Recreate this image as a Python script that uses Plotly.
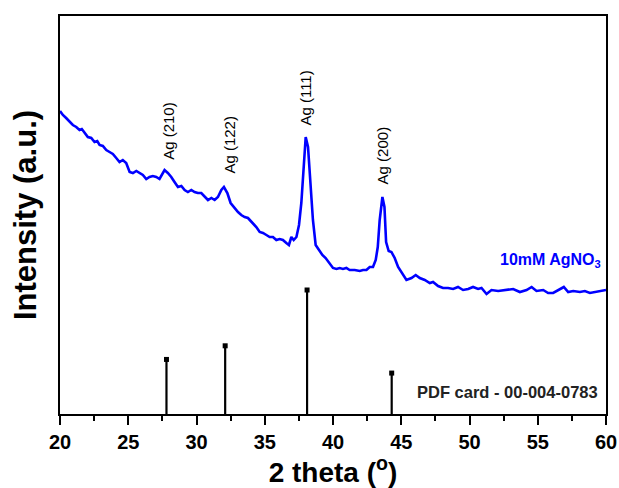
import plotly.graph_objects as go

# Measured XRD pattern (2θ in degrees, intensity in arbitrary units)
two_theta = [
    20.00, 20.21, 20.45, 20.70, 20.94, 21.19, 21.43, 21.60, 21.80, 22.04,
    22.29, 22.53, 22.73, 22.90, 23.14, 23.39, 23.63, 23.87, 24.12, 24.36,
    24.60, 24.85, 25.10, 25.34, 25.59, 25.83, 26.07, 26.32, 26.56, 26.80,
    27.05, 27.29, 27.46, 27.66, 27.90, 28.15, 28.39, 28.64, 28.89, 29.13,
    29.37, 29.62, 29.86, 30.10, 30.35, 30.59, 30.84, 31.09, 31.33, 31.57,
    31.82, 32.01, 32.26, 32.50, 32.79, 33.04, 33.28, 33.53, 33.77, 34.13,
    34.38, 34.63, 34.87, 35.12, 35.36, 35.60, 35.85, 36.09, 36.33, 36.58,
    36.77, 36.95, 37.12, 37.32, 37.51, 37.68, 37.85, 38.00, 38.17, 38.34,
    38.53, 38.73, 38.97, 39.22, 39.46, 39.71, 40.00, 40.25, 40.49, 40.73,
    40.98, 41.22, 41.59, 41.96, 42.20, 42.45, 42.69, 42.93, 43.13, 43.28,
    43.42, 43.62, 43.77, 43.89, 44.08, 44.28, 44.52, 44.77, 45.01, 45.38,
    45.75, 46.06, 46.36, 46.72, 47.09, 47.33, 47.70, 48.06, 48.43, 48.80,
    49.16, 49.53, 49.90, 50.26, 50.63, 50.88, 51.25, 51.61, 52.10, 52.59,
    53.20, 53.69, 54.18, 54.55, 54.91, 55.40, 55.76, 56.13, 56.50, 56.91,
    57.23, 57.60, 58.09, 58.45, 58.82, 59.19, 59.55, 60.00,
]
intensity = [
    303, 299, 296, 292, 289, 287, 284, 285, 281, 277,
    276, 272, 273, 269, 268, 264, 262, 260, 256, 252,
    254, 251, 242, 241, 243, 241, 239, 235, 237, 238,
    237, 235, 239, 244, 241, 237, 232, 227, 228, 224,
    222, 224, 222, 221, 221, 217, 214, 216, 214, 217,
    224, 227, 221, 211, 206, 202, 199, 197, 196, 191,
    187, 182, 181, 179, 177, 177, 174, 175, 174, 171,
    169, 177, 174, 177, 189, 211, 247, 277, 267, 231,
    194, 169, 164, 159, 156, 151, 146, 145, 146, 145,
    146, 144, 144, 143, 144, 144, 147, 147, 154, 167,
    194, 217, 207, 172, 163, 162, 156, 147, 142, 134,
    136, 139, 136, 134, 131, 132, 128, 126, 126, 125,
    127, 124, 125, 127, 125, 126, 120, 124, 123, 124,
    125, 122, 124, 127, 123, 124, 121, 121, 124, 127,
    122, 123, 122, 123, 121, 122, 123, 124,
]

# Reference stick pattern (PDF card 00-004-0783), relative intensities
ref_two_theta = [27.8, 32.1, 38.1, 44.3]
ref_rel_intensity = [44, 55, 100, 33]
ref_scale = 1.24  # display height of the 100 % line

# Reflection labels
peak_labels = ["Ag (210)", "Ag (122)", "Ag (111)", "Ag (200)"]
label_x = [27.9, 32.35, 37.92, 43.62]
label_y = [283, 269, 316, 259]

FONT = "Arial, Liberation Sans, sans-serif"
ref_heights = [v * ref_scale for v in ref_rel_intensity]

stem_x, stem_y = [], []
for t, h in zip(ref_two_theta, ref_heights):
    stem_x += [t, t, None]
    stem_y += [0, h, None]

fig = go.Figure()
fig.add_trace(go.Scatter(
    x=two_theta, y=intensity, mode="lines",
    line=dict(color="#0000FF", width=2.6), showlegend=False,
))
fig.add_trace(go.Scatter(
    x=stem_x, y=stem_y, mode="lines",
    line=dict(color="black", width=2.2), showlegend=False,
))
fig.add_trace(go.Scatter(
    x=ref_two_theta, y=ref_heights, mode="markers",
    marker=dict(symbol="square", size=5, color="black"), showlegend=False,
))

for txt, x, y in zip(peak_labels, label_x, label_y):
    fig.add_annotation(
        x=x, y=y, text=txt, textangle=-90, showarrow=False,
        xanchor="center", yanchor="middle",
        font=dict(family=FONT, size=15, color="black"),
    )

fig.add_annotation(
    x=55.9, y=154, text="10mM AgNO<sub>3</sub>", showarrow=False,
    xanchor="center", yanchor="middle",
    font=dict(family=FONT, size=16, color="#0000FF", weight="bold"),
)
fig.add_annotation(
    x=52.8, y=22, text="PDF card - 00-004-0783", showarrow=False,
    xanchor="center", yanchor="middle",
    font=dict(family=FONT, size=16.5, color="#222222", weight="bold"),
)

fig.update_layout(
    width=619, height=488,
    margin=dict(l=60, r=13, t=16, b=74),
    paper_bgcolor="white", plot_bgcolor="white",
    font=dict(family=FONT, color="black"),
    xaxis=dict(
        range=[20, 60], tickmode="linear", tick0=20, dtick=5,
        ticks="outside", ticklen=9, tickwidth=2, tickcolor="black",
        minor=dict(ticks="outside", ticklen=5, tickwidth=2, dtick=2.5, tickcolor="black"),
        showline=True, linecolor="black", linewidth=2, mirror=True,
        showgrid=False, zeroline=False, automargin=False,
        tickfont=dict(family=FONT, size=20, color="black", weight="bold"),
        title=dict(text="2 theta (<sup>o</sup>)", standoff=4,
                   font=dict(family=FONT, size=28, color="black", weight="bold")),
    ),
    yaxis=dict(
        range=[0, 398], showticklabels=False, ticks="",
        showline=True, linecolor="black", linewidth=2, mirror=True,
        showgrid=False, zeroline=False, automargin=False,
        title=dict(text="Intensity (a.u.)", standoff=12,
                   font=dict(family=FONT, size=31, color="black", weight="bold")),
    ),
)

fig.write_html("out.html")
